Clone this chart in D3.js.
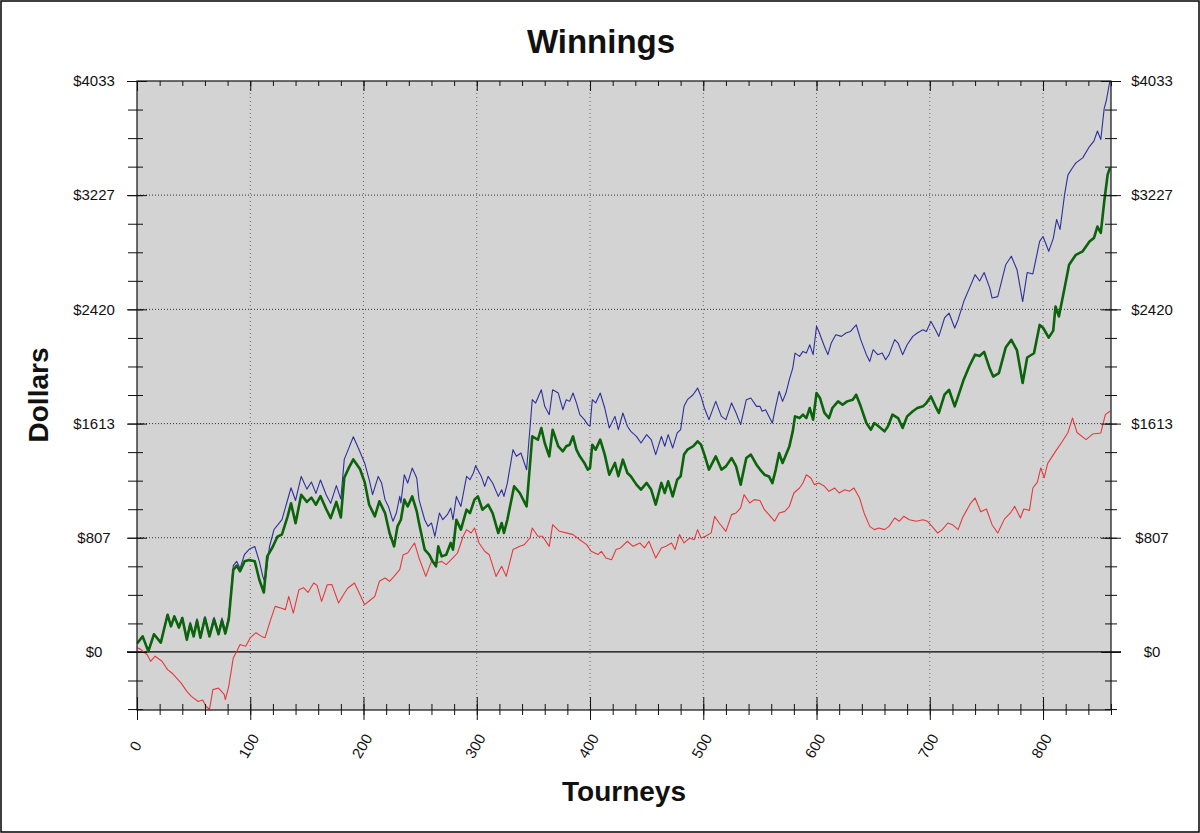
<!DOCTYPE html>
<html>
<head>
<meta charset="utf-8">
<title>Winnings</title>
<script src="https://cdn.jsdelivr.net/npm/d3@7"></script>
<style>
  body { margin: 0; background: #fff; }
  text { font-family: Arial, "Liberation Sans", sans-serif; fill: #111; }
</style>
</head>
<body>
<div id="chart"></div>
<script>
// tick values
const yMajor = [0, 807, 1613, 2420, 3227, 4033];
const yMinor = d3.range(-2, 21).map(i => i * 4033 / 20);
const xMajor = [0, 100, 200, 300, 400, 500, 600, 700, 800];
const xMinor = d3.range(0, 861, 20);

// [tourney, dollars]
const blueSeries = [[0,60],[5,110],[10,10],[15,125],[21,70],[27,265],[30,185],[33,255],[37,180],[40,245],[44,100],[47,210],[50,125],[53,235],[56,115],[60,250],[64,125],[68,245],[72,140],[75,240],[78,150],[81,250],[85,610],[88,640],[91,590],[95,690],[99,725],[104,745],[108,640],[111,535],[113,490],[117,745],[121,865],[125,905],[128,935],[133,1075],[136,1160],[140,1070],[145,1240],[150,1150],[154,1200],[158,1120],[162,1215],[167,1110],[171,1050],[176,1175],[180,1080],[183,1360],[187,1440],[191,1520],[196,1430],[201,1335],
  [205,1217],[208,1111],[213,1240],[216,1193],[219,1076],[222,1028],[226,923],[229,981],[232,1099],[233,1052],[236,1252],[239,1193],[243,1299],[247,1229],[249,1076],[254,934],[257,887],[260,911],[263,817],[267,981],[270,934],[274,970],[277,1017],[279,934],[282,1099],[286,1028],[291,1240],[294,1217],[297,1264],[299,1316],[304,1240],[307,1170],[310,1240],[314,1193],[319,1099],[322,1146],[324,1099],[327,1193],[332,1429],[335,1382],[339,1405],[344,1287],[349,1782],[352,1758],[357,1852],[360,1735],[364,1676],[367,1852],[372,1829],[376,1711],[379,1782],[382,1770],[385,1829],[388,1759],[391,1676],[395,1641],[398,1606],[400,1594],[402,1782],[405,1759],[409,1829],[413,1723],[417,1582],[422,1664],[425,1570],[429,1688],[433,1594],[436,1558],[441,1523],[445,1476],[450,1535],[454,1500],[458,1394],[463,1523],[466,1453],[469,1535],[473,1441],[477,1547],[480,1570],[483,1735],[486,1782],[491,1817],[495,1864],[498,1805],[501,1723],[505,1641],[511,1770],[516,1664],[520,1641],[525,1759],[529,1688],[533,1606],[538,1782],[542,1794],[547,1735],[550,1735],[552,1700],[555,1711],[558,1664],[561,1617],[564,1735],[567,1841],[570,1770],[573,1829],[576,1923],[579,2005],[581,2111],[585,2088],[588,2123],[591,2111],[594,2170],[597,2100],[600,2300],[602,2264],[607,2158],[610,2100],[613,2182],[617,2241],[622,2229],[626,2253],[630,2264],[635,2311],[639,2206],[644,2100],[647,2052],[650,2135],[654,2100],[658,2111],[661,2064],[664,2100],[669,2206],[672,2182],[676,2100],[680,2170],[685,2229],[689,2253],[694,2276],[697,2264],[701,2335],[705,2276],[708,2229],[713,2359],[717,2394],[722,2288],[725,2347],
  [730,2475],[735,2570],[740,2665],[744,2620],[748,2680],[753,2570],[755,2500],[760,2510],[767,2735],[772,2795],[777,2700],[782,2475],[786,2680],[791,2670],[797,2900],[800,2935],[805,2830],[809,2920],[812,3055],[815,2985],[819,3230],[822,3370],[826,3420],[829,3455],[835,3490],[841,3570],[845,3610],[848,3680],[851,3620],[854,3840],[856,3900],[859,4033]];

const greenSeries = [[0,60],[5,110],[10,4],[15,125],[21,66],[27,263],[30,181],[33,251],[37,172],[40,240],[44,87],[47,195],[50,110],[53,220],[56,100],[60,240],[64,110],[68,230],[72,125],[75,220],[78,130],[81,230],[85,580],[88,610],[91,570],[95,640],[99,650],[104,640],[108,510],[112,420],[115,675],[120,745],[124,815],[128,830],[133,958],[136,1050],[140,910],[145,1110],[150,1060],[154,1090],[158,1040],[162,1100],[167,1010],[171,945],[176,1060],[180,950],[183,1230],[187,1300],[191,1360],[197,1290],[201,1200],
  [205,1040],[210,958],[214,1064],[219,981],[223,840],[227,746],[230,887],[233,934],[236,1076],[239,1028],[243,1099],[247,993],[249,911],[254,723],[258,687],[261,640],[264,605],[266,746],[269,675],[273,687],[277,770],[279,723],[282,934],[286,864],[291,1005],[294,981],[298,1076],[301,1099],[305,1005],[310,1040],[314,981],[319,840],[322,911],[324,840],[327,934],[333,1170],[338,1123],[344,1028],[349,1523],[354,1499],[357,1582],[360,1476],[364,1382],[367,1570],[372,1452],[376,1417],[379,1453],[382,1464],[385,1523],[388,1429],[391,1382],[395,1335],[398,1288],[400,1300],[402,1464],[405,1429],[409,1500],[413,1394],[417,1252],[422,1335],[425,1241],[429,1358],[433,1264],[436,1241],[441,1182],[445,1147],[450,1194],[454,1147],[458,1041],[463,1194],[466,1123],[469,1205],[473,1099],[477,1217],[480,1241],[483,1394],[486,1429],[491,1453],[495,1488],[498,1464],[501,1394],[505,1288],[511,1382],[516,1288],[520,1311],[525,1370],[529,1311],[533,1182],[538,1370],[542,1394],[547,1323],[550,1290],[554,1252],[558,1240],[561,1193],[564,1288],[567,1405],[570,1335],[573,1393],[576,1452],[579,1558],[581,1664],[585,1652],[588,1676],[591,1652],[594,1723],[597,1641],[600,1829],[603,1794],[607,1688],[611,1652],[614,1723],[619,1770],[623,1746],[627,1770],[632,1782],[635,1817],[639,1735],[644,1617],[648,1570],[651,1617],[655,1593],[660,1558],[663,1593],[667,1676],[672,1652],[676,1582],[680,1664],[685,1700],[689,1723],[694,1735],[697,1758],[701,1805],[705,1735],[708,1688],[713,1817],[717,1852],[722,1735],[725,1805],
  [730,1925],[735,2020],[740,2100],[744,2090],[748,2120],[753,2000],[756,1945],[761,1970],[767,2150],[772,2205],[777,2130],[782,1900],[786,2080],[792,2110],[797,2310],[800,2290],[805,2220],[809,2270],[811,2440],[814,2370],[819,2570],[823,2735],[829,2805],[835,2830],[841,2900],[845,2925],[848,3005],[851,2960],[854,3180],[857,3370],[859,3420]];

const redSeries = [[0,30],[3,20],[9,-20],[12,-66],[16,-30],[22,-66],[27,-125],[31,-150],[35,-185],[39,-220],[44,-278],[48,-314],[54,-350],[58,-340],[61,-385],[64,-405],[67,-266],[72,-255],[77,-300],[78,-337],[81,-243],[85,-42],[88,4],[91,52],[96,40],[100,100],[105,136],[110,110],[113,100],[118,228],[122,322],[127,310],[131,299],[134,393],[138,275],[143,440],[147,454],[151,420],[156,487],[159,470],[163,357],[168,475],[172,477],[178,346],[182,400],[186,450],[192,487],[196,420],[201,334],[205,360],
  [210,393],[214,499],[219,522],[223,499],[227,534],[232,581],[235,687],[239,699],[245,770],[249,664],[255,534],[260,640],[264,628],[269,640],[273,617],[279,664],[283,699],[288,817],[291,864],[295,840],[298,876],[302,770],[307,711],[311,687],[317,534],[322,605],[326,534],[332,723],[338,746],[342,758],[347,805],[349,876],[354,817],[358,817],[364,746],[367,899],[373,852],[379,841],[385,829],[391,793],[397,758],[401,711],[407,688],[410,711],[414,664],[419,652],[423,723],[427,735],[433,782],[438,746],[444,770],[448,735],[452,782],[455,723],[458,664],[463,735],[467,746],[472,770],[475,723],[479,829],[483,770],[488,805],[492,793],[495,864],[498,805],[502,817],[507,841],[510,958],[514,911],[520,852],[525,970],[529,982],[533,1017],[536,1111],[541,1052],[545,1076],[550,1070],[554,1005],[558,970],[563,923],[567,982],[572,993],[576,1029],[580,1123],[585,1158],[588,1193],[591,1252],[595,1229],[598,1182],[602,1193],[607,1170],[611,1135],[616,1158],[620,1123],[625,1146],[629,1135],[633,1158],[638,1087],[642,982],[647,887],[651,864],[655,876],[660,864],[664,887],[669,946],[673,923],[677,958],[682,934],[688,923],[694,934],[698,923],[702,887],[707,840],[711,864],[716,911],[720,899],[725,864],
  [729,950],[732,993],[736,1050],[740,1088],[745,990],[750,1010],[755,899],[760,840],[766,940],[771,980],[775,1028],[780,946],[783,1010],[788,1000],[791,1158],[795,1200],[798,1300],[801,1230],[804,1330],[811,1417],[817,1487],[822,1550],[826,1653],[830,1550],[838,1500],[844,1540],[851,1547],[855,1676],[859,1700]];

const width = 1200, height = 833;
const plot = { left: 137, right: 1111, top: 81, bottom: 710 };

const x = d3.scaleLinear().domain([0, 860]).range([plot.left, plot.right]);
const y = d3.scaleLinear().domain([-410, 4033]).range([plot.bottom, plot.top]);

const svg = d3.select("#chart").append("svg")
    .attr("width", width)
    .attr("height", height);

svg.append("rect")
    .attr("x", 1).attr("y", 1)
    .attr("width", width - 2).attr("height", height - 2)
    .attr("fill", "#fff").attr("stroke", "#000").attr("stroke-width", 1.5);

svg.append("rect")
    .attr("x", plot.left).attr("y", plot.top)
    .attr("width", plot.right - plot.left).attr("height", plot.bottom - plot.top)
    .attr("fill", "#d3d3d3");

// grid
svg.append("g")
  .selectAll("line")
  .data(xMajor.slice(1))
  .join("line")
    .attr("x1", d => x(d)).attr("x2", d => x(d))
    .attr("y1", plot.top).attr("y2", plot.bottom)
    .attr("stroke", "#666").attr("stroke-dasharray", "1,3");

svg.append("g")
  .selectAll("line")
  .data(yMajor.slice(1, -1))
  .join("line")
    .attr("x1", plot.left).attr("x2", plot.right)
    .attr("y1", d => y(d)).attr("y2", d => y(d))
    .attr("stroke", "#333").attr("stroke-dasharray", "1,2");

svg.append("line")
    .attr("x1", plot.left - 10).attr("x2", plot.right + 10)
    .attr("y1", y(0)).attr("y2", y(0))
    .attr("stroke", "#000").attr("stroke-width", 1.2);

// series
svg.append("clipPath").attr("id", "clip")
  .append("rect")
    .attr("x", plot.left).attr("y", plot.top - 1)
    .attr("width", plot.right - plot.left).attr("height", plot.bottom - plot.top + 1);

const line = d3.line().x(d => x(d[0])).y(d => y(d[1]));
const lines = svg.append("g").attr("clip-path", "url(#clip)");

lines.append("path").datum(redSeries)
    .attr("fill", "none").attr("stroke", "#e5393d").attr("stroke-width", 1.1)
    .attr("stroke-linejoin", "round").attr("d", line);
lines.append("path").datum(blueSeries)
    .attr("fill", "none").attr("stroke", "#2f2f9c").attr("stroke-width", 1.1)
    .attr("stroke-linejoin", "round").attr("d", line);
lines.append("path").datum(greenSeries)
    .attr("fill", "none").attr("stroke", "#0b630b").attr("stroke-width", 2.6)
    .attr("stroke-linejoin", "round").attr("d", line);

// axes
const fmt = d => "$" + d;

const leftAxis = svg.append("g").attr("transform", `translate(${plot.left},0)`);
leftAxis.append("g").call(d3.axisLeft(y).tickValues(yMinor).tickSize(9).tickFormat("").tickSizeOuter(0))
  .call(g => g.selectAll(".tick line").attr("x1", 6));
leftAxis.append("g").call(d3.axisLeft(y).tickValues(yMajor).tickSize(10).tickFormat(fmt).tickSizeOuter(0))
  .call(g => g.selectAll(".tick line").attr("x1", 10))
  .call(g => g.selectAll(".tick text").attr("x", -43).attr("text-anchor", "middle"));

const rightAxis = svg.append("g").attr("transform", `translate(${plot.right},0)`);
rightAxis.append("g").call(d3.axisRight(y).tickValues(yMinor).tickSize(6).tickFormat("").tickSizeOuter(0))
  .call(g => g.selectAll(".tick line").attr("x1", -6));
rightAxis.append("g").call(d3.axisRight(y).tickValues(yMajor).tickSize(10).tickFormat(fmt).tickSizeOuter(0))
  .call(g => g.selectAll(".tick line").attr("x1", -10))
  .call(g => g.selectAll(".tick text").attr("x", 41).attr("text-anchor", "middle"));

const bottomAxis = svg.append("g").attr("transform", `translate(0,${plot.bottom})`);
bottomAxis.append("g").call(d3.axisBottom(x).tickValues(xMinor).tickSize(5).tickFormat("").tickSizeOuter(0))
  .call(g => g.selectAll(".tick line").attr("y1", -6));
bottomAxis.append("g").call(d3.axisBottom(x).tickValues(xMajor).tickSize(10).tickFormat(d => d).tickSizeOuter(0))
  .call(g => g.selectAll(".tick line").attr("y1", -13))
  .call(g => g.selectAll(".tick text")
      .attr("y", 0).attr("dy", "0.35em")
      .attr("text-anchor", "middle")
      .attr("transform", "translate(-2,36) rotate(-60)"));

const topAxis = svg.append("g").attr("transform", `translate(0,${plot.top})`);
topAxis.append("g").call(d3.axisTop(x).tickValues(xMinor).tickSize(-5).tickFormat("").tickSizeOuter(0));
topAxis.append("g").call(d3.axisTop(x).tickValues(xMajor).tickSize(-10).tickFormat("").tickSizeOuter(0));

svg.selectAll(".domain").remove();
svg.selectAll(".tick line").attr("stroke", "#111");
svg.selectAll(".tick text").attr("font-size", 15).attr("fill", "#111")
    .attr("font-family", "Arial, 'Liberation Sans', sans-serif");

// plot frame
svg.append("rect")
    .attr("x", plot.left).attr("y", plot.top)
    .attr("width", plot.right - plot.left).attr("height", plot.bottom - plot.top)
    .attr("fill", "none").attr("stroke", "#111").attr("stroke-width", 1.2);

// titles
svg.append("text")
    .attr("x", 601).attr("y", 53)
    .attr("text-anchor", "middle")
    .attr("font-size", 33).attr("font-weight", "bold")
    .text("Winnings");

svg.append("text")
    .attr("x", 624).attr("y", 801)
    .attr("text-anchor", "middle")
    .attr("font-size", 28).attr("font-weight", "bold")
    .text("Tourneys");

svg.append("text")
    .attr("transform", "translate(48,395) rotate(-90)")
    .attr("text-anchor", "middle")
    .attr("font-size", 28).attr("font-weight", "bold")
    .text("Dollars");
</script>
</body>
</html>
